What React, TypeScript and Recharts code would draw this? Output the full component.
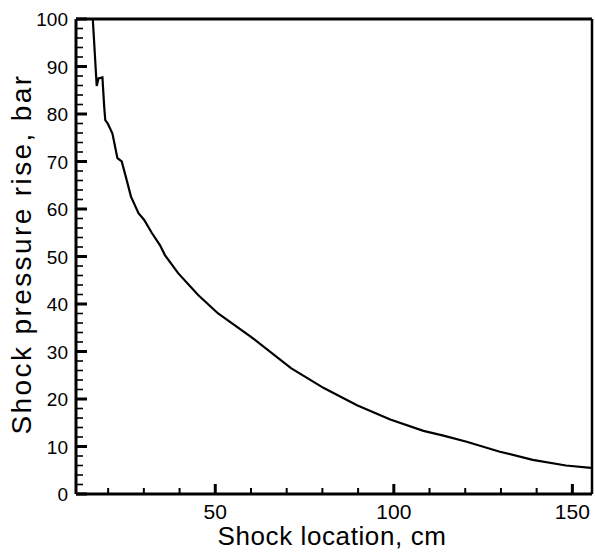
import React from "react";
import { LineChart, Line, XAxis, YAxis, ReferenceLine } from "recharts";

// shock location, cm
const locationCm = [
  15.7, 16.8, 17.3, 18.4, 18.9, 19.2, 19.9, 21.2, 22.6, 23.8, 24.7, 26.4, 28.5, 30.1, 32.2, 34.5,
  35.9, 39.6, 45.2, 50.8, 60.0, 71.2, 80.4, 89.7, 99.0, 108.3, 113.9, 120.4, 129.7, 138.9, 148.2, 155.2,
];
// shock pressure rise, bar
const pressureBar = [
  100, 85.9, 87.5, 87.7, 81.5, 78.7, 78.0, 75.9, 70.7, 70.0, 67.5, 62.6, 59.1, 57.7, 55.0, 52.4,
  50.3, 46.5, 41.9, 38.0, 33.1, 26.5, 22.3, 18.7, 15.7, 13.3, 12.3, 11.0, 8.9, 7.2, 6.0, 5.5,
];

const xTicks = [20, 30, 40, 50, 60, 70, 80, 90, 100, 110, 120, 130, 140, 150];
const xLabelled = [50, 100, 150];
const yTicks = Array.from({ length: 51 }, (_, i) => i * 2);
const yLabelled = [0, 10, 20, 30, 40, 50, 60, 70, 80, 90, 100];

const data = locationCm.map((x, i) => ({ x, p: pressureBar[i] }));

function XTick(props: any) {
  const { x, y, payload } = props;
  const major = xLabelled.includes(payload.value);
  return (
    <g>
      <line x1={x} x2={x} y1={y} y2={y - (major ? 10 : 6)} stroke="#000" strokeWidth={major ? 3 : 2} />
      {major && (
        <text x={x} y={y + 25} textAnchor="middle" fontSize={21} fill="#000">
          {payload.value}
        </text>
      )}
    </g>
  );
}

function YTick(props: any) {
  const { x, y, payload } = props;
  const major = yLabelled.includes(payload.value);
  return (
    <g>
      <line x1={x} x2={x + (major ? 11 : 7)} y1={y} y2={y} stroke="#000" strokeWidth={major ? 3 : 1.6} />
      {major && (
        <text x={x - 8} y={y + 7} textAnchor="end" fontSize={19} fill="#000">
          {payload.value}
        </text>
      )}
    </g>
  );
}

export default function App() {
  return (
    <div
      style={{
        position: "fixed",
        left: 0,
        top: 0,
        width: 595,
        height: 554,
        background: "#fff",
        fontFamily: "Arial, Helvetica, sans-serif",
      }}
    >
      <LineChart width={595} height={554} data={data} margin={{ top: 19, right: 3, left: 0, bottom: 0 }}>
        <XAxis
          dataKey="x"
          type="number"
          domain={[11, 155.5]}
          ticks={xTicks}
          interval={0}
          height={60}
          tickSize={0}
          tickMargin={0}
          tickLine={false}
          tick={<XTick />}
          axisLine={{ stroke: "#000", strokeWidth: 3 }}
        />
        <YAxis
          type="number"
          domain={[0, 100]}
          ticks={yTicks}
          interval={0}
          width={76}
          tickSize={0}
          tickMargin={0}
          tickLine={false}
          tick={<YTick />}
          axisLine={{ stroke: "#000", strokeWidth: 3 }}
        />
        <ReferenceLine y={100} stroke="#000" strokeWidth={3} />
        <ReferenceLine x={155.5} stroke="#000" strokeWidth={2.5} />
        <Line dataKey="p" stroke="#000" strokeWidth={2.2} dot={false} isAnimationActive={false} />
      </LineChart>
      <div
        style={{
          position: "absolute",
          left: 332,
          top: 521,
          transform: "translateX(-50%)",
          fontSize: 26,
          lineHeight: "30px",
          whiteSpace: "nowrap",
          letterSpacing: 0.6,
        }}
      >
        Shock location, cm
      </div>
      <div
        style={{
          position: "absolute",
          left: 22,
          top: 254,
          transform: "translate(-50%, -50%) rotate(-90deg)",
          fontSize: 28,
          lineHeight: "30px",
          whiteSpace: "nowrap",
          letterSpacing: 2.4,
        }}
      >
        Shock pressure rise, bar
      </div>
    </div>
  );
}
